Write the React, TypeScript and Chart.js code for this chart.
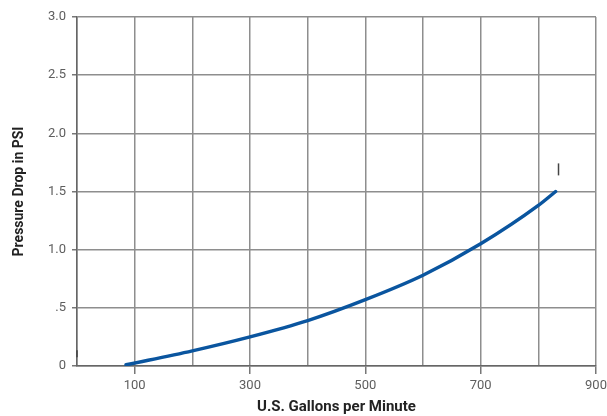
import React, { useEffect, useRef } from "react";
import { Chart, registerables } from "chart.js";

Chart.register(...registerables);

// Flow (US GPM) and pressure drop (PSI)
const flowGpm = [85, 200, 300, 400, 500, 600, 700, 800, 830];
const pressurePsi = [0.01, 0.13, 0.25, 0.39, 0.57, 0.78, 1.05, 1.38, 1.5];

// Small "I" markers visible in the reference
const markerRightX = [835];
const markerRightY = [1.69];
const markerLeftX = [0];
const markerLeftY = [0.105];

const xLabeledTicks = [100, 300, 500, 700, 900];
const yTickValues = [0, 0.5, 1, 1.5, 2, 2.5, 3];
const yTickLabels = ["0", ".5", "1.0", "1.5", "2.0", "2.5", "3.0"];

const xTitle = "U.S. Gallons per Minute";
const yTitle = "Pressure Drop in PSI";

export default function App() {
  const ref = useRef<HTMLCanvasElement | null>(null);

  useEffect(() => {
    if (!ref.current) return;
    const font = "Roboto, 'DejaVu Sans', sans-serif";
    const chart = new Chart(ref.current, {
      type: "line",
      data: {
        datasets: [
          {
            data: flowGpm.map((x, i) => ({ x, y: pressurePsi[i] })),
            borderColor: "#0a559f",
            borderWidth: 3.5,
            pointRadius: 0,
            cubicInterpolationMode: "monotone",
            borderCapStyle: "round",
            fill: false,
          },
          {
            data: markerRightX.map((x, i) => ({ x, y: markerRightY[i] })),
            showLine: false,
            pointStyle: "line",
            rotation: 90,
            pointRadius: 6,
            borderColor: "#444",
            borderWidth: 1.5,
            clip: false,
          } as any,
          {
            data: markerLeftX.map((x, i) => ({ x, y: markerLeftY[i] })),
            showLine: false,
            pointStyle: "line",
            rotation: 90,
            pointRadius: 3.5,
            borderColor: "#444",
            borderWidth: 1.5,
            clip: false,
          } as any,
        ],
      },
      options: {
        animation: false,
        responsive: false,
        maintainAspectRatio: false,
        layout: { padding: { left: 11, right: 11, top: 17, bottom: 0 } },
        plugins: { legend: { display: false }, tooltip: { enabled: false } },
        scales: {
          x: {
            type: "linear",
            min: 0,
            max: 900,
            afterFit: (s: any) => {
              s.height = 50;
              s.paddingRight = 0;
              s.paddingLeft = 0;
            },
            ticks: {
              stepSize: 100,
              autoSkip: false,
              maxRotation: 0,
              padding: 4,
              color: "#5e5e5e",
              font: { family: font, size: 13 },
              callback: (v: any) =>
                xLabeledTicks.includes(Number(v)) ? String(v) : "",
            },
            grid: {
              color: "#8e8e8e",
              lineWidth: 1.5,
              tickLength: 8,
              tickColor: (ctx: any) =>
                xLabeledTicks.includes(ctx.tick?.value) ? "#777" : "rgba(0,0,0,0)",
            },
            border: { color: "#666", width: 1.5 },
            title: {
              display: true,
              text: xTitle,
              color: "#222",
              font: { family: font, size: 15, weight: "bold" },
              padding: { top: 0, bottom: 0 },
            },
          },
          y: {
            type: "linear",
            min: 0,
            max: 3,
            afterFit: (s: any) => {
              s.width = 66;
              s.paddingTop = 0;
              s.paddingBottom = 0;
            },
            afterBuildTicks: (s: any) => {
              s.ticks = yTickValues.map((v) => ({ value: v }));
            },
            ticks: {
              padding: 6,
              color: "#5e5e5e",
              font: { family: font, size: 13 },
              callback: (v: any) => {
                const i = yTickValues.indexOf(Number(v));
                return i >= 0 ? yTickLabels[i] : "";
              },
            },
            grid: {
              color: "#8e8e8e",
              lineWidth: 1.5,
              tickLength: 5,
              tickColor: "#777",
            },
            border: { color: "#666", width: 1.5 },
            title: {
              display: true,
              text: yTitle,
              color: "#222",
              font: { family: font, size: 14, weight: "bold" },
              padding: { top: 0, bottom: 0 },
            },
          },
        },
      },
    });
    return () => chart.destroy();
  }, []);

  return (
    <div style={{ position: "absolute", left: 0, top: 0, width: 607, height: 416, background: "#fff" }}>
      <canvas ref={ref} width={607} height={416} style={{ width: 607, height: 416, display: "block" }} />
    </div>
  );
}
